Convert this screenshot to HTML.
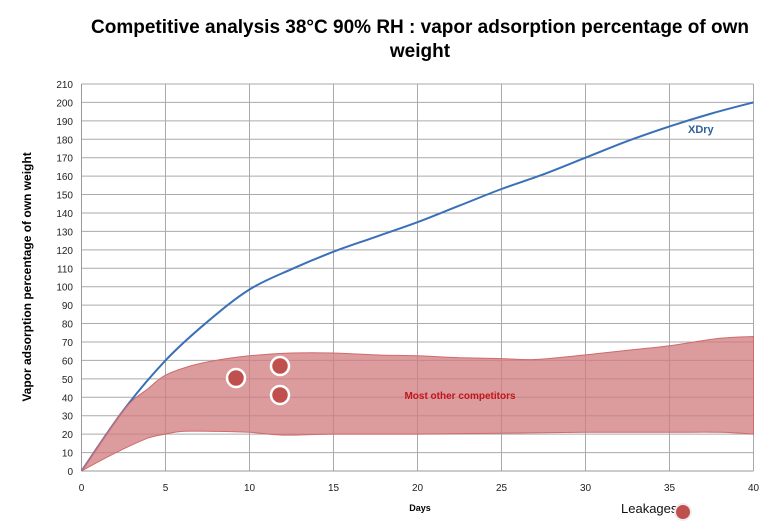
<!DOCTYPE html>
<html><head><meta charset="utf-8"><style>
body{margin:0;background:#fff;}
svg{display:block;font-family:"Liberation Sans",sans-serif;}
</style></head><body>
<svg id="s" width="780" height="525" xmlns="http://www.w3.org/2000/svg">
<rect width="780" height="525" fill="#fff"/>
<text x="420" y="33" text-anchor="middle" font-size="19" font-weight="bold" fill="#000">Competitive analysis 38°C 90% RH : vapor adsorption percentage of own</text>
<text x="420" y="57" text-anchor="middle" font-size="19" font-weight="bold" fill="#000">weight</text>
<g id="grid"></g>
<path id="blue" fill="none" stroke="#3a70b8" stroke-width="2"/>
<path id="band" fill="#d07a7c" fill-opacity="0.75" stroke="#d06a6c" stroke-width="1"/>
<text x="688" y="133" font-size="11" font-weight="bold" fill="#2f5e9e">XDry</text>
<text x="460" y="399" text-anchor="middle" font-size="10" font-weight="bold" fill="#c0161c">Most other competitors</text>
<g stroke="#fff" stroke-width="2.5" fill="#c0504d">
<circle cx="236" cy="378" r="9"/><circle cx="280" cy="366" r="9"/><circle cx="280" cy="395" r="9"/>
</g>
<text x="420" y="511" text-anchor="middle" font-size="9" font-weight="bold">Days</text>
<text transform="translate(31,277) rotate(-90)" text-anchor="middle" font-size="12" font-weight="bold">Vapor adsorption percentage of own weight</text>
<text x="621" y="513" font-size="13" fill="#111">Leakages !</text>
<circle cx="683" cy="512" r="8" fill="#c0504d" stroke="#eee" stroke-width="2"/>
</svg>
<script>
(function(){
const X=d=>81.5+16.8*d, Y=v=>471-1.843*v;
let g='';
for(let v=0;v<=210;v+=10){const y=Y(v);g+=`<line x1="81.5" x2="753.5" y1="${y}" y2="${y}" stroke="#aaa" stroke-width="1"/><text x="73" y="${y+4}" text-anchor="end" font-size="10" fill="#222">${v}</text>`;}
for(let d=0;d<=40;d+=5){const x=X(d);g+=`<line x1="${x}" x2="${x}" y1="84" y2="471" stroke="#aaa" stroke-width="1"/><text x="${x}" y="491" text-anchor="middle" font-size="10" fill="#222">${d}</text>`;}
g+=`<line x1="81.5" x2="753.5" y1="471" y2="471" stroke="#999"/><line x1="81.5" x2="81.5" y1="84" y2="471" stroke="#999"/>`;
document.getElementById('grid').innerHTML=g;
function cr(pts){let s='';for(let i=0;i<pts.length-1;i++){const p0=pts[Math.max(0,i-1)],p1=pts[i],p2=pts[i+1],p3=pts[Math.min(pts.length-1,i+2)];
const c1=[p1[0]+(p2[0]-p0[0])/6,p1[1]+(p2[1]-p0[1])/6],c2=[p2[0]-(p3[0]-p1[0])/6,p2[1]-(p3[1]-p1[1])/6];
s+=` C${c1[0].toFixed(1)},${c1[1].toFixed(1)} ${c2[0].toFixed(1)},${c2[1].toFixed(1)} ${p2[0].toFixed(1)},${p2[1].toFixed(1)}`;}return s;}
const m=a=>a.map(p=>[X(p[0]),Y(p[1])]);
const bl=m([[0,0],[2.5,33],[5,60],[7.5,81],[10,98.5],[12.5,109.5],[15,119],[17.5,127],[20,135],[22.5,144],[25,153],[27.5,161],[30,170],[32.5,179],[35,187],[37.5,194],[40,200]]);
document.getElementById('blue').setAttribute('d',`M${bl[0][0]},${bl[0][1]}`+cr(bl));
const hi=m([[0,0],[2.5,33],[4,45],[5,52],[6.5,57],[8,60],[10,62.5],[12.5,64],[15,64],[17.5,63],[20,62.5],[22.5,61.5],[25,61],[27,60.5],[30,63],[32.5,65.5],[35,68],[38,72],[40,73]]);
const lo=m([[40,20],[38,21],[35,21],[30,21],[25,20.5],[20,20],[15,20],[12,19.5],[10,21],[8,21.5],[6,21.5],[5,20],[4,18],[2.5,12],[1,5],[0,0]]);
document.getElementById('band').setAttribute('d',`M${hi[0][0]},${hi[0][1]}`+cr(hi)+` L${lo[0][0]},${lo[0][1]}`+cr(lo)+'Z');
})();
</script>
</body></html>
